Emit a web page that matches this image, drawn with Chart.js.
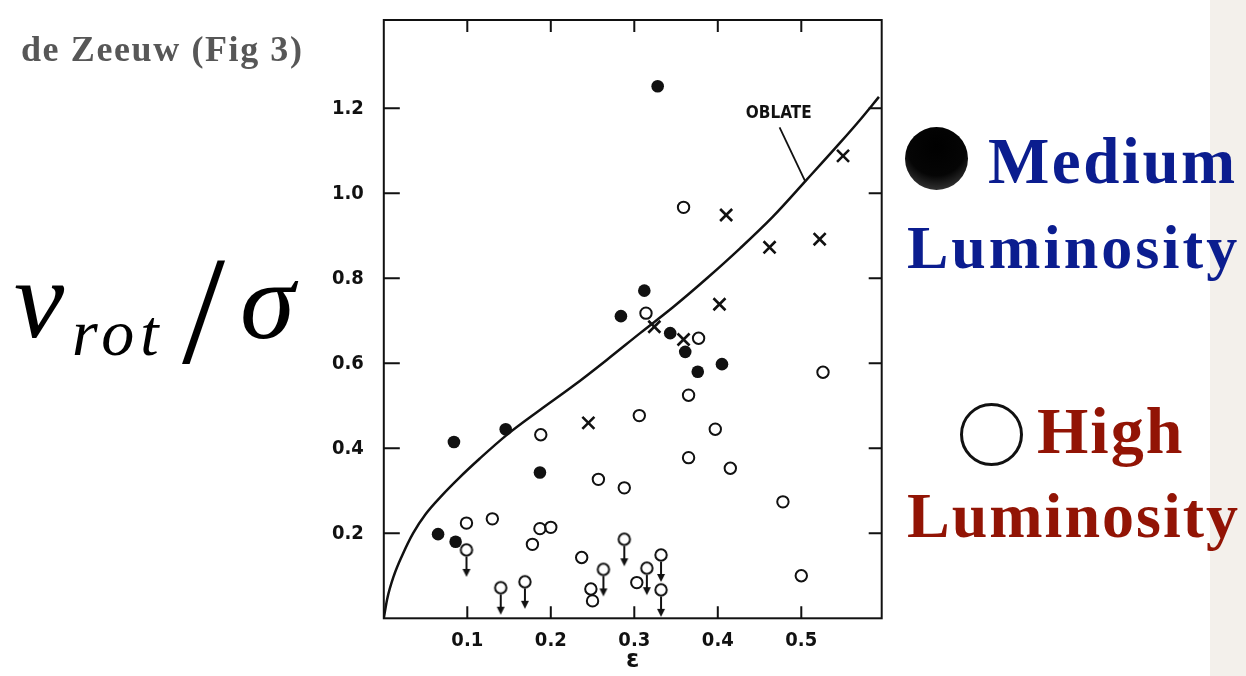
<!DOCTYPE html>
<html>
<head>
<meta charset="utf-8">
<script src="https://cdn.jsdelivr.net/npm/chart.js@4.4.1/dist/chart.umd.min.js"></script>
<style>
  body { margin: 0; background: #fff; }
  #page { position: relative; width: 1246px; height: 676px; overflow: hidden; background: #fff; }
  #chart { position: absolute; left: 0; top: 0; }
  .txt { position: absolute; white-space: nowrap; line-height: 1; font-family: 'Liberation Serif', serif; }
  .strip { position: absolute; left: 1210px; top: 0; width: 36px; height: 676px; background: #f3f0eb; }
  .dot { position: absolute; border-radius: 50%; box-sizing: border-box; }
</style>
</head>
<body>
<div id="page">
  <div class="strip"></div>
  <canvas id="chart" width="1246" height="676"></canvas>

  <div class="txt" style="left:21px; top:31px; font-size:36px; font-weight:bold; color:#575757; letter-spacing:1.6px;">de Zeeuw (Fig 3)</div>

  <div class="txt" style="left:14px; top:242px; font-size:113px; font-style:italic;">v</div>
  <div class="txt" style="left:72px; top:300px; font-size:66px; font-style:italic; letter-spacing:6px;">rot</div>
  <div class="txt" style="left:182px; top:233px; font-size:155px;">/</div>
  <div class="txt" style="left:240px; top:245px; font-size:111px; font-style:italic;">σ</div>

  <div class="dot" style="left:905px; top:127px; width:63px; height:63px; background:radial-gradient(circle at 50% 30%, #000 0%, #050505 55%, #3c3c3c 88%, #1b1b1b 100%);"></div>
  <div class="txt" style="left:988px; top:129px; font-size:65px; font-weight:bold; color:#0b1d8f; letter-spacing:2.5px;">Medium</div>
  <div class="txt" style="left:907px; top:216px; font-size:62px; font-weight:bold; color:#0b1d8f; letter-spacing:3px;">Luminosity</div>

  <div class="dot" style="left:960px; top:403px; width:63px; height:63px; border:3px solid #111;"></div>
  <div class="txt" style="left:1037px; top:398px; font-size:66px; font-weight:bold; color:#921405; letter-spacing:2px;">High</div>
  <div class="txt" style="left:907px; top:484px; font-size:64px; font-weight:bold; color:#921405; letter-spacing:2px;">Luminosity</div>
</div>

<script>
// ellipticity (eps) vs v/sigma
var medEps = [0.328, 0.312, 0.284, 0.343, 0.361, 0.376, 0.405, 0.084, 0.146, 0.187, 0.065, 0.086];
var medV   = [1.252, 0.771, 0.711, 0.671, 0.627, 0.580, 0.598, 0.415, 0.445, 0.343, 0.198, 0.180];

var highEps = [0.359, 0.314, 0.377, 0.526, 0.365, 0.306, 0.397, 0.188, 0.365, 0.415, 0.257, 0.288,
               0.478, 0.099, 0.130, 0.187, 0.200, 0.178, 0.237, 0.500, 0.248, 0.250, 0.303];
var highV   = [0.967, 0.718, 0.659, 0.579, 0.525, 0.477, 0.445, 0.432, 0.378, 0.353, 0.327, 0.307,
               0.274, 0.224, 0.234, 0.211, 0.214, 0.174, 0.143, 0.100, 0.069, 0.041, 0.084];

// upper limits (drawn with a down arrow)
var limEps = [0.099, 0.140, 0.169, 0.288, 0.263, 0.315, 0.332, 0.332];
var limV   = [0.161, 0.072, 0.086, 0.186, 0.115, 0.118, 0.149, 0.067];

var crossEps = [0.550, 0.410, 0.462, 0.522, 0.402, 0.324, 0.359, 0.245];
var crossV   = [1.088, 0.949, 0.873, 0.892, 0.739, 0.686, 0.656, 0.460];

// oblate isotropic rotator line
var oblateEps = [0, 0.004, 0.012, 0.022, 0.035, 0.050, 0.070, 0.090, 0.115, 0.147, 0.187, 0.227,
                 0.267, 0.307, 0.347, 0.387, 0.427, 0.466, 0.506, 0.546, 0.570, 0.593];
var oblateV   = [0, 0.045, 0.100, 0.148, 0.200, 0.245, 0.290, 0.330, 0.376, 0.431, 0.490, 0.547,
                 0.608, 0.671, 0.733, 0.800, 0.871, 0.945, 1.031, 1.118, 1.172, 1.227];

var xTicks = [0.1, 0.2, 0.3, 0.4, 0.5];
var xTickLabels = ['0.1', '0.2', '0.3', '0.4', '0.5'];
var yTicks = [0.2, 0.4, 0.6, 0.8, 1.0, 1.2];
var yTickLabels = ['0.2', '0.4', '0.6', '0.8', '1.0', '1.2'];

var oblateText = 'OBLATE';
var oblateAt = [0.473, 1.187];
var oblatePointer = [[0.474, 1.155], [0.505, 1.027]];

function pairs(xs, ys) {
  return xs.map(function (v, i) { return { x: v, y: ys[i] }; });
}

// open circle with a downward arrow, centred on the point
function limitMarker() {
  var c = document.createElement('canvas');
  c.width = 18; c.height = 58;
  var g = c.getContext('2d');
  var cx = 9, cy = 29;
  g.strokeStyle = '#111';
  g.fillStyle = '#111';
  g.lineWidth = 2;
  g.beginPath();
  g.arc(cx, cy, 5.7, 0, Math.PI * 2);
  g.stroke();
  g.beginPath();
  g.moveTo(cx, cy + 6.7);
  g.lineTo(cx, cy + 21);
  g.stroke();
  g.beginPath();
  g.moveTo(cx - 4, cy + 19);
  g.lineTo(cx + 4, cy + 19);
  g.lineTo(cx, cy + 27);
  g.closePath();
  g.fill();
  return c;
}

var axisFont = { family: "'DejaVu Sans Condensed', 'DejaVu Sans', sans-serif", size: 20, weight: 'bold' };

var frame = {
  id: 'frame',
  afterDatasetsDraw: function (chart) {
    var ctx = chart.ctx, a = chart.chartArea, x = chart.scales.x, y = chart.scales.y;
    ctx.save();
    ctx.strokeStyle = '#111';
    ctx.lineWidth = 2;
    ctx.strokeRect(a.left, a.top, a.right - a.left, a.bottom - a.top);
    ctx.beginPath();
    xTicks.forEach(function (t) {
      var px = x.getPixelForValue(t);
      ctx.moveTo(px, a.bottom); ctx.lineTo(px, a.bottom - 12);
      ctx.moveTo(px, a.top); ctx.lineTo(px, a.top + 12);
    });
    yTicks.forEach(function (t) {
      var py = y.getPixelForValue(t);
      ctx.moveTo(a.left, py); ctx.lineTo(a.left + 16, py);
      ctx.moveTo(a.right, py); ctx.lineTo(a.right - 13, py);
    });
    ctx.stroke();

    // curve label with its pointer
    ctx.lineWidth = 1.8;
    ctx.beginPath();
    ctx.moveTo(x.getPixelForValue(oblatePointer[0][0]), y.getPixelForValue(oblatePointer[0][1]));
    ctx.lineTo(x.getPixelForValue(oblatePointer[1][0]), y.getPixelForValue(oblatePointer[1][1]));
    ctx.stroke();
    ctx.fillStyle = '#111';
    ctx.font = "600 17px 'DejaVu Sans Condensed', 'DejaVu Sans', sans-serif";
    ctx.textAlign = 'center';
    ctx.textBaseline = 'middle';
    ctx.fillText(oblateText, x.getPixelForValue(oblateAt[0]), y.getPixelForValue(oblateAt[1]));
    ctx.restore();
  }
};

new Chart(document.getElementById('chart'), {
  type: 'scatter',
  data: {
    datasets: [
      {
        label: 'Medium Luminosity',
        data: pairs(medEps, medV),
        pointStyle: 'circle',
        pointRadius: 6.3,
        pointBorderWidth: 0,
        backgroundColor: '#111',
        borderColor: '#111'
      },
      {
        label: 'High Luminosity',
        data: pairs(highEps, highV),
        pointStyle: 'circle',
        pointRadius: 5.7,
        pointBorderWidth: 2,
        backgroundColor: 'rgba(0,0,0,0)',
        borderColor: '#111'
      },
      {
        label: 'High Luminosity (upper limit)',
        data: pairs(limEps, limV),
        pointStyle: limitMarker(),
        pointRadius: 6
      },
      {
        label: 'x',
        data: pairs(crossEps, crossV),
        pointStyle: 'crossRot',
        pointRadius: 8.5,
        pointBorderWidth: 2.6,
        borderColor: '#111'
      },
      {
        label: 'OBLATE',
        type: 'line',
        data: pairs(oblateEps, oblateV),
        showLine: true,
        pointRadius: 0,
        borderColor: '#111',
        borderWidth: 2.5,
        cubicInterpolationMode: 'monotone',
        fill: false
      }
    ]
  },
  options: {
    responsive: false,
    animation: false,
    devicePixelRatio: 1,
    layout: { padding: { left: 0, right: 364.3, top: 20, bottom: 0 } },
    plugins: {
      legend: { display: false },
      tooltip: { enabled: false }
    },
    scales: {
      x: {
        type: 'linear',
        min: 0,
        max: 0.5963,
        grid: { display: false, drawTicks: false },
        border: { display: false },
        afterBuildTicks: function (scale) {
          scale.ticks = xTicks.map(function (v) { return { value: v }; });
        },
        afterFit: function (scale) {
          scale.height = 57.7;
          scale.paddingLeft = 0;
          scale.paddingRight = 0;
        },
        ticks: {
          padding: 10,
          color: '#111',
          font: axisFont,
          maxRotation: 0,
          callback: function (value, index) { return xTickLabels[index]; }
        },
        title: {
          display: true,
          text: 'ε',
          color: '#111',
          font: { family: "'DejaVu Sans', sans-serif", size: 24, weight: 'bold', lineHeight: 1 },
          padding: { top: 0, bottom: 3 }
        }
      },
      y: {
        type: 'linear',
        min: 0,
        max: 1.4078,
        grid: { display: false, drawTicks: false },
        border: { display: false },
        afterBuildTicks: function (scale) {
          scale.ticks = yTicks.map(function (v) { return { value: v }; });
        },
        afterFit: function (scale) {
          scale.width = 383.8;
          scale.paddingTop = 0;
          scale.paddingBottom = 0;
        },
        ticks: {
          padding: 20,
          color: '#111',
          font: axisFont,
          callback: function (value, index) { return yTickLabels[index]; }
        }
      }
    }
  },
  plugins: [frame]
});
</script>
</body>
</html>
